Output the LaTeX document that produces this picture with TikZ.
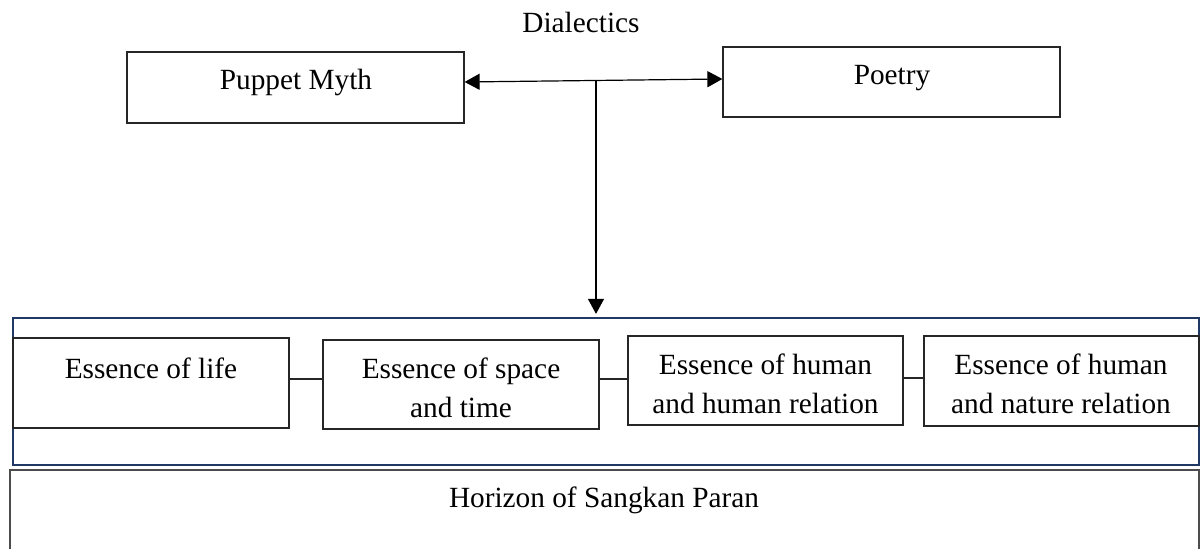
\documentclass[tikz,border=0pt]{standalone}
\usepackage{fontspec}
\setmainfont{Liberation Serif}
\usetikzlibrary{arrows.meta,fit,calc}
\definecolor{navy}{RGB}{31,56,100}
\begin{document}
\begin{tikzpicture}[x=0.5pt,y=-0.5pt,
  box/.style={draw=black!85, line width=0.6pt, inner sep=0pt},
  outerbox/.style={draw=navy, line width=1.1pt, inner sep=0pt},
  horbox/.style={draw=black!70, line width=0.8pt, inner sep=0pt},
  txt/.style={inner sep=0pt, font=\fontsize{14.65}{19.5}\selectfont, align=center},
  arr/.style={-{Triangle[length=7.5pt,width=8pt]}, line width=0.6pt},
  dbl/.style={{Triangle[length=7.5pt,width=8pt]}-{Triangle[length=7.5pt,width=8pt]}, line width=0.6pt},
  link/.style={draw=black!85, line width=0.6pt}
]
\useasboundingbox (0,0) rectangle (1200,549);
\clip (0,0) rectangle (1200,549);

% top boxes
\node[box, fit={(127,52)(464,123)}] (pm) {};
\node[box, fit={(723,47)(1060,117)}] (po) {};
\node[txt, anchor=base] (dia) at (581,33) {Dialectics};
\node[txt, anchor=base] (pmt) at (296,90) {Puppet Myth};
\node[txt, anchor=base] (pot) at (892,85) {Poetry};

% outer container
\node[outerbox, fit={(13,318)(1199,465)}] (outer) {};

% inner boxes
\node[box, fit={(13,338)(289,428)}] (b1) {};
\node[box, fit={(323,340)(599,429)}] (b2) {};
\node[box, fit={(628,336)(903,425)}] (b3) {};
\node[box, fit={(924,336)(1199,426)}] (b4) {};
\node[txt, anchor=north] (b1t) at (151,357) {Essence of life};
\node[txt, anchor=north] (b2t) at (461,357) {Essence of space\\and time};
\node[txt, anchor=north] (b3t) at (765.5,353) {Essence of human\\and human relation};
\node[txt, anchor=north] (b4t) at (1061,353) {Essence of human\\and nature relation};

% horizon box
\node[horbox, fit={(10,470)(1199,580)}] (hz) {};
\node[txt, anchor=base] (hzt) at (604,508) {Horizon of Sangkan Paran};

% connectors
\draw[dbl] ([yshift=2.75pt]pm.east) -- ([yshift=1.5pt]po.west);
\coordinate (j) at (596,81);
\draw[arr, shorten >=1.5pt] (j) -- (j |- outer.north);
\draw[link] ([yshift=2pt]b1.east) -- ([yshift=2.75pt]b2.west);
\draw[link] ([yshift=2.75pt]b2.east) -- ([yshift=0.75pt]b3.west);
\draw[link] ([yshift=1.25pt]b3.east) -- ([yshift=1.5pt]b4.west);
\end{tikzpicture}
\end{document}
